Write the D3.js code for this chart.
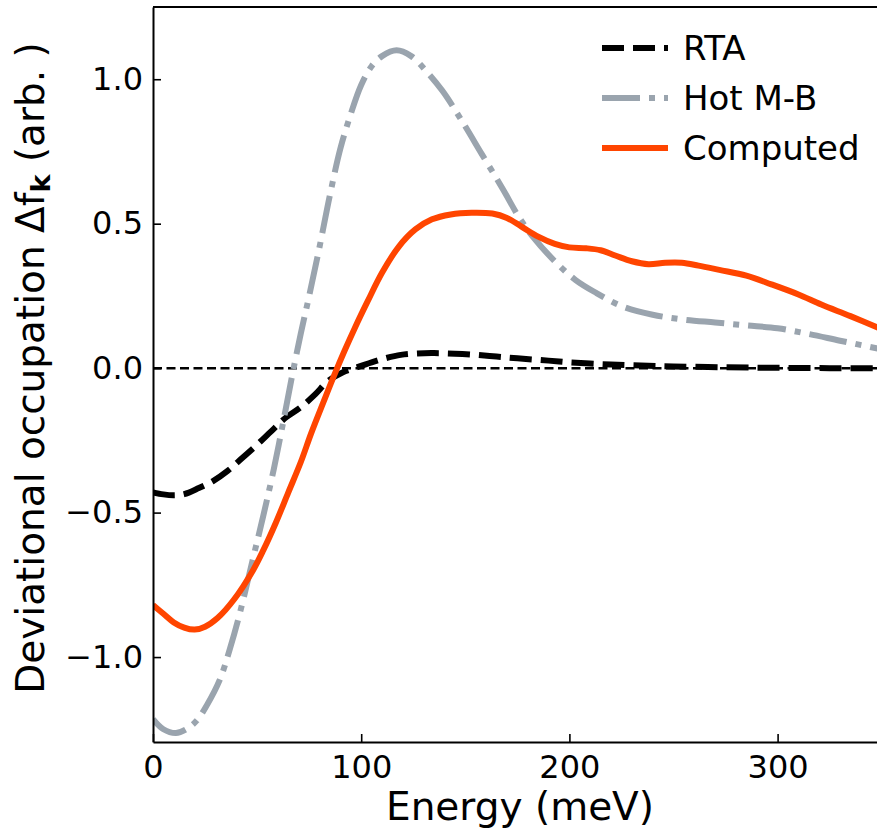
<!DOCTYPE html>
<html>
<head>
<meta charset="utf-8">
<script src="https://cdn.jsdelivr.net/npm/d3@7"></script>
<style>
body { margin: 0; background: #fff; }
svg { display: block; font-family: "DejaVu Sans", sans-serif; }
</style>
</head>
<body>
<div id="chart"></div>
<script>
var w = 877, h = 830;
var margin = {left: 153, top: 7, right: 0, bottom: 88};

// energies (meV) and values
var rtaE = [0, 5, 10, 15, 22, 29, 36, 43, 50, 58, 64, 71, 78, 84, 91, 98, 105, 112, 119, 127, 135, 145, 155, 165, 175, 190, 200, 215, 230, 250, 275, 300, 325, 350];
var rtaV = [-0.43, -0.437, -0.44, -0.436, -0.415, -0.39, -0.355, -0.31, -0.265, -0.21, -0.17, -0.135, -0.09, -0.045, -0.015, 0.003, 0.02, 0.035, 0.046, 0.051, 0.052, 0.05, 0.046, 0.04, 0.034, 0.026, 0.02, 0.014, 0.01, 0.006, 0.003, 0.001, 0, 0];

var hotE = [0, 5, 11, 16, 21, 26, 32, 37, 42, 48, 53, 58, 63, 67, 71, 75, 80, 85, 90, 95, 100, 105, 110, 117, 124, 131, 139, 148, 158, 168, 176, 183, 193, 203, 213, 225, 240, 255, 270, 285, 300, 315, 330, 350];
var hotV = [-1.215, -1.25, -1.263, -1.25, -1.22, -1.165, -1.08, -0.97, -0.84, -0.66, -0.51, -0.35, -0.17, -0.02, 0.12, 0.25, 0.42, 0.6, 0.76, 0.88, 0.98, 1.045, 1.08, 1.1, 1.08, 1.03, 0.96, 0.86, 0.74, 0.62, 0.52, 0.45, 0.37, 0.305, 0.26, 0.215, 0.185, 0.168, 0.158, 0.148, 0.138, 0.118, 0.095, 0.065];

var compE = [0, 5, 10, 15, 20, 25, 31, 39, 48, 53, 59, 65, 71, 76, 82, 87, 92, 97, 103, 110, 118, 126, 134, 143, 153, 163, 170, 177, 185, 193, 200, 208, 215, 222, 230, 238, 246, 254, 262, 272, 285, 297, 310, 321, 335, 350];
var compV = [-0.82, -0.85, -0.88, -0.898, -0.905, -0.895, -0.865, -0.8, -0.7, -0.63, -0.535, -0.43, -0.325, -0.225, -0.115, -0.025, 0.06, 0.14, 0.23, 0.33, 0.42, 0.48, 0.515, 0.532, 0.538, 0.535, 0.52, 0.49, 0.455, 0.43, 0.418, 0.415, 0.408, 0.39, 0.37, 0.36, 0.365, 0.365, 0.355, 0.34, 0.32, 0.29, 0.255, 0.22, 0.18, 0.135];

var seriesNames = ["RTA", "Hot M-B", "Computed"];
var xTicks = [0, 100, 200, 300];
var yTicks = [-1.0, -0.5, 0.0, 0.5, 1.0];

var svg = d3.select("#chart").append("svg")
	.attr("width", w)
	.attr("height", h);

var x = d3.scaleLinear().domain([0, 350]).range([margin.left, margin.left + 350 * 2.082]);
var y = d3.scaleLinear().domain([-1.294, 1.25]).range([h - margin.bottom, margin.top]);

svg.append("clipPath").attr("id", "clip")
	.append("rect")
	.attr("x", x(0)).attr("y", y(1.25))
	.attr("width", x(350) - x(0)).attr("height", y(-1.294) - y(1.25));

var line = d3.line()
	.x(function(d) { return x(d[0]); })
	.y(function(d) { return y(d[1]); })
	.curve(d3.curveCatmullRom.alpha(0.5));

function pairs(a, b) {
	return a.map(function(v, i) { return [v, b[i]]; });
}

var plot = svg.append("g").attr("clip-path", "url(#clip)");

// zero line
plot.append("line")
	.attr("x1", x(0)).attr("x2", x(350))
	.attr("y1", y(0)).attr("y2", y(0))
	.attr("stroke", "#000")
	.attr("stroke-width", 2.5)
	.attr("stroke-dasharray", "9,4.5");

var styles = [
	{data: pairs(rtaE, rtaV), color: "#000000", dash: "22,9"},
	{data: pairs(hotE, hotV), color: "#9aa4ae", dash: "38,9,6,9"},
	{data: pairs(compE, compV), color: "#ff4500", dash: null}
];

styles.forEach(function(s) {
	plot.append("path")
		.datum(s.data)
		.attr("d", line)
		.attr("fill", "none")
		.attr("stroke", s.color)
		.attr("stroke-width", 6)
		.attr("stroke-dasharray", s.dash);
});

// axes, ticks pointing inward
var xAxis = svg.append("g")
	.attr("transform", "translate(0," + y(-1.294) + ")")
	.call(d3.axisBottom(x).tickValues(xTicks).tickSizeInner(-8).tickSizeOuter(0).tickPadding(13).tickFormat(d3.format("d")));
var yAxis = svg.append("g")
	.attr("transform", "translate(" + x(0) + ",0)")
	.call(d3.axisLeft(y).tickValues(yTicks).tickSizeInner(-8).tickSizeOuter(0).tickPadding(10)
		.tickFormat(function(d) { return d3.format(".1f")(d).replace("-", "\u2212"); }));

[xAxis, yAxis].forEach(function(a) {
	a.selectAll("text").attr("font-size", 32).attr("font-family", "DejaVu Sans").attr("fill", "#000");
	a.selectAll("line").attr("stroke-width", 1.6).attr("stroke", "#000");
	a.select(".domain").attr("stroke-width", 2).attr("stroke", "#000");
});
xAxis.selectAll("text").attr("dy", "0.71em");

// top spine
svg.append("line")
	.attr("x1", x(0)).attr("x2", w)
	.attr("y1", y(1.25)).attr("y2", y(1.25))
	.attr("stroke", "#000").attr("stroke-width", 2);

// axis labels
svg.append("text")
	.attr("x", 520)
	.attr("y", 820)
	.attr("text-anchor", "middle")
	.attr("font-size", 39)
	.text("Energy (meV)");

var yl = svg.append("text")
	.attr("transform", "translate(44,368) rotate(-90)")
	.attr("text-anchor", "middle")
	.attr("font-size", 39);
yl.append("tspan").text("Deviational occupation \u0394f");
yl.append("tspan").attr("font-size", 27).attr("font-weight", "bold").attr("dy", 6).text("k");
yl.append("tspan").attr("dy", -6).text(" (arb. )");

// legend
var legend = svg.append("g").attr("transform", "translate(602,48)");
seriesNames.forEach(function(name, i) {
	var g = legend.append("g").attr("transform", "translate(0," + i * 50 + ")");
	g.append("line")
		.attr("x1", 0).attr("x2", 66)
		.attr("stroke", styles[i].color)
		.attr("stroke-width", 6)
		.attr("stroke-dasharray", styles[i].dash);
	g.append("text")
		.attr("x", 81)
		.attr("dy", "0.36em")
		.attr("font-size", 34)
		.text(name);
});
</script>
</body>
</html>
